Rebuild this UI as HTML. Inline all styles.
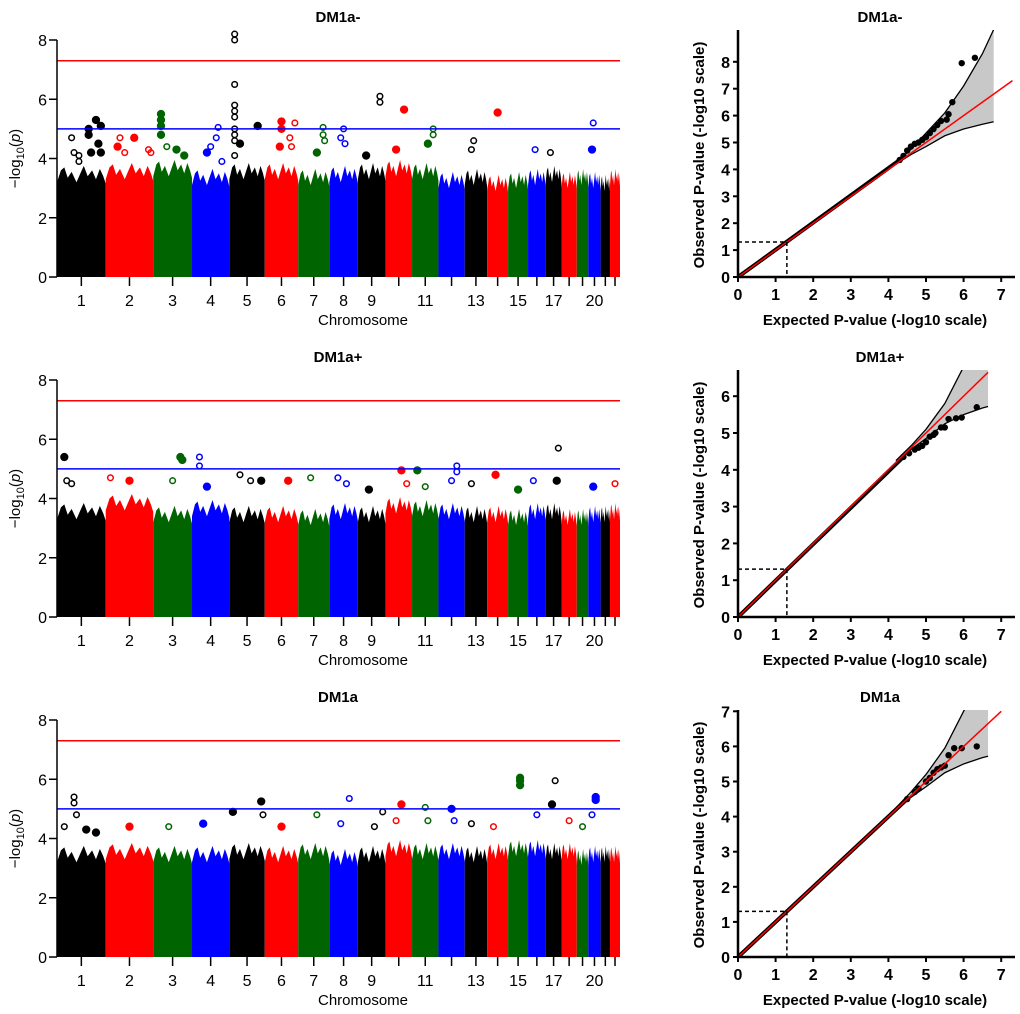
<!DOCTYPE html>
<html><head><meta charset="utf-8"><style>
html,body{margin:0;padding:0;background:#fff;}
svg{display:block;font-family:"Liberation Sans",Arial,sans-serif;}
</style></head><body>
<svg id="root" width="1020" height="1014" viewBox="0 0 1020 1014"></svg>
<script>
// ---- data ----
const chromSizes = [249,243,198,191,181,171,159,146,141,136,135,134,115,107,102,90,81,78,59,63,48,51];
const chromLabels = ["1","2","3","4","5","6","7","8","9","","11","","13","","15","","17","","","20","",""];
const chromColors = ["#000000","#ff0000","#006400","#0000ff"];
const titles = ["DM1a-","DM1a+","DM1a"];
const bulkTop1 = [3.7,3.8,3.9,3.6,3.8,3.8,3.6,3.7,3.8,3.9,3.8,3.5,3.6,3.4,3.5,3.6,3.7,3.5,3.6,3.5,3.4,3.6];
const bulkTop2 = [3.8,4.1,3.7,3.9,3.7,3.7,3.6,3.8,3.7,4.0,3.9,3.8,3.7,3.7,3.6,3.8,3.8,3.6,3.6,3.7,3.7,3.8];
const bulkTop3 = [3.7,3.8,3.7,3.7,3.8,3.7,3.8,3.6,3.7,3.9,3.8,3.8,3.7,3.8,3.9,3.9,3.8,3.8,3.6,3.7,3.7,3.7];
// [chromosome, fraction along chromosome, -log10 p, filled]
const hits1 = [[1,.3,4.7,0],[1,.35,4.2,0],[1,.45,4.1,0],[1,.45,3.9,0],[1,.65,4.8,1],[1,.65,5.0,1],[1,.8,5.3,1],[1,.9,5.1,1],[1,.85,4.5,1],[1,.7,4.2,1],[1,.9,4.2,1],
[2,.3,4.7,0],[2,.25,4.4,1],[2,.4,4.2,0],[2,.6,4.7,1],[2,.9,4.3,0],[2,.95,4.2,0],
[3,.2,5.5,1],[3,.2,5.3,1],[3,.2,5.1,1],[3,.2,4.8,1],[3,.35,4.4,0],[3,.6,4.3,1],[3,.8,4.1,1],
[4,.7,5.05,0],[4,.65,4.7,0],[4,.5,4.4,0],[4,.4,4.2,1],[4,.8,3.9,0],
[5,.15,8.2,0],[5,.15,8.0,0],[5,.15,6.5,0],[5,.15,5.8,0],[5,.15,5.6,0],[5,.15,5.4,0],[5,.15,5.0,0],[5,.15,4.8,0],[5,.15,4.6,0],[5,.15,4.1,0],[5,.3,4.5,1],[5,.8,5.1,1],
[6,.5,5.25,1],[6,.5,5.0,1],[6,.45,4.4,1],[6,.9,5.2,0],[6,.75,4.7,0],[6,.8,4.4,0],
[7,.8,5.05,0],[7,.8,4.8,0],[7,.85,4.6,0],[7,.6,4.2,1],
[8,.5,5.0,0],[8,.4,4.7,0],[8,.55,4.5,0],
[9,.8,6.1,0],[9,.8,5.9,0],[9,.3,4.1,1],
[10,.7,5.65,1],[10,.4,4.3,1],
[11,.8,5.0,0],[11,.8,4.8,0],[11,.6,4.5,1],
[13,.4,4.6,0],[13,.3,4.3,0],[14,.5,5.55,1],[16,.4,4.3,0],[17,.3,4.2,0],[20,.4,5.2,0],[20,.3,4.3,1]];
const hits2 = [[1,.15,5.4,1],[1,.2,4.6,0],[1,.3,4.5,0],[2,.1,4.7,0],[2,.5,4.6,1],[3,.7,5.4,1],[3,.75,5.3,1],[3,.5,4.6,0],[4,.2,5.4,0],[4,.2,5.1,0],[4,.4,4.4,1],
[5,.3,4.8,0],[5,.6,4.6,0],[5,.9,4.6,1],[6,.7,4.6,1],[7,.4,4.7,0],[8,.3,4.7,0],[8,.6,4.5,0],[9,.4,4.3,1],[10,.6,4.95,1],[10,.8,4.5,0],[11,.2,4.95,1],[11,.5,4.4,0],
[12,.7,5.1,0],[12,.7,4.9,0],[12,.5,4.6,0],[13,.3,4.5,0],[14,.4,4.8,1],[15,.5,4.3,1],[16,.3,4.6,0],[17,.8,5.7,0],[17,.7,4.6,1],[20,.4,4.4,1],[22,.5,4.5,0]];
const hits3 = [[1,.15,4.4,0],[1,.35,5.4,0],[1,.35,5.2,0],[1,.4,4.8,0],[1,.6,4.3,1],[1,.8,4.2,1],[2,.5,4.4,1],[3,.4,4.4,0],[4,.3,4.5,1],[5,.1,4.9,1],[5,.9,5.25,1],[5,.95,4.8,0],
[6,.5,4.4,1],[7,.6,4.8,0],[8,.7,5.35,0],[8,.4,4.5,0],[9,.9,4.9,0],[9,.6,4.4,0],[10,.6,5.15,1],[10,.4,4.6,0],[11,.5,5.05,0],[11,.6,4.6,0],[12,.5,5.0,1],[12,.6,4.6,0],
[13,.3,4.5,0],[14,.3,4.4,0],[15,.6,6.05,1],[15,.6,5.95,1],[15,.6,5.8,1],[16,.5,4.8,0],[17,.6,5.95,0],[17,.4,5.15,1],[18,.5,4.6,0],[19,.5,4.4,0],[20,.6,5.4,1],[20,.6,5.3,1],[20,.3,4.8,0]];
// QQ observed tail [expected, observed]
const qq1 = [[4.3,4.35],[4.4,4.5],[4.5,4.7],[4.6,4.85],[4.7,4.95],[4.8,5.0],[4.9,5.1],[5.0,5.2],[5.1,5.35],[5.2,5.5],[5.3,5.65],[5.4,5.8],[5.55,5.85],[5.6,6.05],[5.7,6.5],[5.95,7.95],[6.3,8.15]];
const qq2 = [[4.4,4.35],[4.55,4.45],[4.7,4.55],[4.8,4.6],[4.9,4.65],[5.0,4.75],[5.1,4.9],[5.2,4.95],[5.25,5.0],[5.4,5.15],[5.5,5.15],[5.6,5.38],[5.8,5.4],[5.95,5.42],[6.35,5.7]];
const qq3 = [[4.5,4.5],[4.7,4.7],[4.8,4.8],[5.0,5.0],[5.1,5.1],[5.2,5.25],[5.3,5.35],[5.4,5.4],[5.5,5.45],[5.6,5.75],[5.75,5.95],[5.95,5.95],[6.35,6.0]];
// confidence band [expected, lower, upper]
const band1 = [[4.2,4.2,4.25],[4.6,4.55,4.75],[5.0,4.85,5.35],[5.5,5.25,6.1],[6.0,5.5,7.1],[6.5,5.68,8.3],[6.8,5.77,9.2]];
const band2 = [[4.2,4.2,4.25],[4.6,4.55,4.65],[5.0,4.85,5.1],[5.5,5.25,5.8],[6.0,5.5,6.8],[6.5,5.68,7.9],[6.65,5.72,8.3]];
const band3 = [[4.2,4.2,4.25],[4.6,4.55,4.7],[5.0,4.85,5.2],[5.5,5.25,5.95],[6.0,5.5,7.0],[6.5,5.68,8.0],[6.65,5.72,8.3]];
const qqYmax = [8, 6, 7];
const qqRedEnd = [7.3, 6.65, 7.0];

const NS="http://www.w3.org/2000/svg";
const root=document.getElementById('root');
function el(tag,attrs,parent){const e=document.createElementNS(NS,tag);for(const k in attrs)e.setAttribute(k,attrs[k]);(parent||root).appendChild(e);return e;}
function txt(s,attrs,parent){const e=el('text',attrs,parent);e.textContent=s;return e;}

const hitsAll=[hits1,hits2,hits3], bulkAll=[bulkTop1,bulkTop2,bulkTop3];
const qqAll=[qq1,qq2,qq3], bandAll=[band1,band2,band3];
const total=chromSizes.reduce((a,b)=>a+b,0);
const starts=[];let acc=0;chromSizes.forEach(s=>{starts.push(acc);acc+=s;});
const edge=[[0,-0.5],[0.08,-0.1],[0.15,0],[0.22,-0.35],[0.3,-0.15],[0.4,-0.5],[0.48,-0.2],[0.55,0.05],[0.63,-0.3],[0.72,-0.1],[0.8,-0.4],[0.88,-0.05],[0.95,-0.3],[1,-0.55]];

for(let r=0;r<3;r++){
  const off=r*340;
  const g=el('g',{});
  
  
  const X0=57,X1=620,Y0=277+off,Y8=40+off;
  const xs=v=>X0+(v/total)*(X1-X0);
  const ys=v=>Y0-(v/8)*(Y0-Y8);
  const t=txt(titles[r],{x:338,y:22+off,'text-anchor':'middle','font-size':15,'font-weight':'bold'},g);
  
  
  const bulk=bulkAll[r];
  chromSizes.forEach((s,i)=>{
    const c=chromColors[i%4];
    const x1=xs(starts[i]),x2=xs(starts[i]+s),w=x2-x1;
    const ht=bulk[i];
    const pts=[[x1,Y0]].concat(edge.map(e=>[x1+w*e[0],ys(ht+e[1])])).concat([[x2,Y0]]);
    const p=el('polygon',{points:pts.map(q=>q.join(',')).join(' '),fill:c},g);
    
    
    const tk=el('line',{x1:(x1+x2)/2,x2:(x1+x2)/2,y1:Y0,y2:Y0+9,stroke:'#000','stroke-width':1.5},g);
    
    
    if(chromLabels[i]){const l=txt(chromLabels[i],{x:(x1+x2)/2,y:Y0+29,'text-anchor':'middle','font-size':16},g);
      
      }
  });
  hitsAll[r].forEach(h=>{
    const i=h[0]-1,c=chromColors[i%4];
    const cx=xs(starts[i]+chromSizes[i]*h[1]);
    const d=el('circle',{cx:cx,cy:ys(h[2]),r:h[3]?3.4:2.8,fill:h[3]?c:'none',stroke:c,'stroke-width':1.5},g);
    
    
  });
  const rl=el('line',{x1:X0,x2:X1,y1:ys(7.3),y2:ys(7.3),stroke:'#ff0000','stroke-width':1.5},g);
  
  
  const bl=el('line',{x1:X0,x2:X1,y1:ys(5),y2:ys(5),stroke:'#0000ff','stroke-width':1.5},g);
  
  
  const ya=el('line',{x1:X0,x2:X0,y1:Y8,y2:Y0,stroke:'#000','stroke-width':1.5},g);
  
  
  [0,2,4,6,8].forEach(v=>{
    el('line',{x1:X0-8,x2:X0,y1:ys(v),y2:ys(v),stroke:'#000','stroke-width':1.5},g);
    const l=txt(String(v),{x:X0-10,y:ys(v)+6,'text-anchor':'end','font-size':16},g);
    
    
  });
  const yt=el('text',{transform:`translate(20,${(Y0+Y8)/2}) rotate(-90)`,'text-anchor':'middle','font-size':15},g);
  yt.innerHTML='−log<tspan font-size="11" dy="4">10</tspan><tspan dy="-4">(</tspan><tspan font-style="italic">p</tspan>)';
  
  
  const xt=txt('Chromosome',{x:363,y:Y0+48,'text-anchor':'middle','font-size':15},g);
  
  

  // ---------- QQ ----------
  const q=el('g',{});
  
  
  const QX0=738,QU=37.6,QY0=277+off;
  const ymax=qqYmax[r];
  const QYU=[26.9,36.8,35.1][r];
  const qx=v=>QX0+v*QU, qy=v=>QY0-v*QYU;
  const top=[30,370,710][r];
  const qt=txt(titles[r],{x:880,y:22+off,'text-anchor':'middle','font-size':15,'font-weight':'bold'},q);
  
  
  const cid='clip'+r;
  const cp=el('clipPath',{id:cid},q);el('rect',{x:QX0,y:top,width:280,height:QY0-top},cp);
  const cg=el('g',{'clip-path':`url(#${cid})`},q);
  const band=bandAll[r];
  const bp=band.map(b=>[qx(b[0]),qy(b[2])]).concat(band.slice().reverse().map(b=>[qx(b[0]),qy(b[1])]));
  const bd=el('polygon',{points:bp.map(p=>p.join(',')).join(' '),fill:'#c8c8c8'},cg);
  
  
  const up=el('polyline',{points:band.map(b=>qx(b[0])+','+qy(b[2])).join(' '),fill:'none',stroke:'#000','stroke-width':1.3},cg);
  
  
  const lo=el('polyline',{points:band.map(b=>qx(b[0])+','+qy(b[1])).join(' '),fill:'none',stroke:'#000','stroke-width':1.3},cg);
  
  
  const obs=qqAll[r];
  const ol=el('polyline',{points:[[0,0],obs[0]].map(p=>qx(p[0])+','+qy(p[1])).join(' '),fill:'none',stroke:'#000','stroke-width':4},cg);
  
  
  obs.forEach(p=>{const c=el('circle',{cx:qx(p[0]),cy:qy(p[1]),r:3.2,fill:'#000'},cg);
    
    });
  const red=el('line',{x1:qx(0),y1:qy(0),x2:qx(qqRedEnd[r]),y2:qy(qqRedEnd[r]),stroke:'#ff0000','stroke-width':1.5},cg);
  
  
  const d1=el('line',{x1:QX0,x2:qx(1.3),y1:qy(1.3),y2:qy(1.3),stroke:'#000','stroke-width':1.5,'stroke-dasharray':'4,3'},q);
  
  
  const d2=el('line',{x1:qx(1.3),x2:qx(1.3),y1:qy(1.3),y2:QY0,stroke:'#000','stroke-width':1.5,'stroke-dasharray':'4,3'},q);
  
  
  const qa=el('path',{d:`M${QX0},${top} V${QY0} H1015`,fill:'none',stroke:'#000','stroke-width':2.5},q);
  
  
  for(let v=0;v<=ymax;v++){
    el('line',{x1:QX0-5,x2:QX0,y1:qy(v),y2:qy(v),stroke:'#000','stroke-width':2},q);
    const l=txt(String(v),{x:QX0-8,y:qy(v)+6,'text-anchor':'end','font-size':16,'font-weight':'bold'},q);
    
    
  }
  for(let v=0;v<=7;v++){
    el('line',{x1:qx(v),x2:qx(v),y1:QY0,y2:QY0+5,stroke:'#000','stroke-width':2},q);
    const l=txt(String(v),{x:qx(v),y:QY0+23,'text-anchor':'middle','font-size':16,'font-weight':'bold'},q);
    
    
  }
  const qxt=txt('Expected P-value (-log10 scale)',{x:875,y:QY0+48,'text-anchor':'middle','font-size':15,'font-weight':'bold'},q);
  
  
  const qyt=txt('Observed P-value (-log10 scale)',{transform:`translate(704,${QY0-122}) rotate(-90)`,'text-anchor':'middle','font-size':15,'font-weight':'bold'},q);
  
  
}
</script>
</body></html>
